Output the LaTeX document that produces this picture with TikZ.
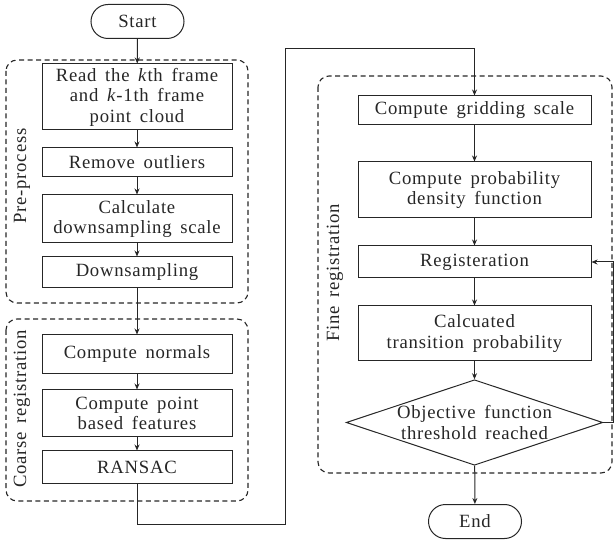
\documentclass[tikz,border=0pt]{standalone}
\usepackage{fontspec}
\setmainfont{Liberation Serif}[LetterSpace=4,WordSpace=1.6]
\usetikzlibrary{arrows.meta,shapes.geometric,shapes.misc}
\definecolor{ink}{HTML}{262626}
\tikzset{
  proc/.style={draw=ink, line width=1pt, rectangle, minimum width=190pt, inner sep=0pt, align=center, text=ink, font=\fontsize{18.7}{20.5}\selectfont},
  rproc/.style={proc, minimum width=233pt},
  term/.style={draw=ink, line width=1pt, rounded rectangle, minimum width=93pt, minimum height=34pt, inner sep=0pt, text=ink, font=\fontsize{18.7}{20.5}\selectfont},
  dec/.style={draw=ink, line width=1pt, diamond, aspect=3, minimum width=243pt, minimum height=81pt, inner sep=0pt, align=center, text=ink, font=\fontsize{18.7}{20.5}\selectfont},
  group/.style={draw=ink, line width=1.1pt, dash pattern=on 5pt off 3.5pt, rounded corners=11pt},
  glabel/.style={rotate=90, text=ink, font=\fontsize{18.7}{20.5}\selectfont},
  flow/.style={draw=ink, line width=1pt, -{Stealth[length=6pt,width=5pt]}},
}
\begin{document}
\begin{tikzpicture}[x=1pt,y=-1pt]
\useasboundingbox (0,0) rectangle (614,540);
% groups
\draw[group] (6,60) rectangle (248,303);
\draw[group] (6,319) rectangle (248,501);
\draw[group] (318,76) rectangle (612,473);
\node[glabel] (lpre) at (22,176) {Pre-process};
\node[glabel] (lcoarse) at (22,409) {Coarse registration};
\node[glabel] (lfine) at (335,273) {Fine registration};
% left column
\node[term] (start) at (137.5,21.5) {Start};
\node[proc, minimum height=66pt] (read) at (137,97) {Read the \textit{k}th frame\\and \textit{k}-1th frame\\point cloud};
\node[proc, minimum height=29pt] (outl) at (137,162.5) {Remove outliers};
\node[proc, minimum height=48pt] (calc) at (137,219) {Calculate\\downsampling scale};
\node[proc, minimum height=31pt] (down) at (137,272.5) {Downsampling};
\node[proc, minimum height=39pt] (norm) at (137,354.5) {Compute normals};
\node[proc, minimum height=47pt] (feat) at (137,413.5) {Compute point\\based features};
\node[proc, minimum height=32pt] (ransac) at (137,467) {RANSAC};
% right column
\node[rproc, minimum height=29pt] (grid) at (474.5,110.5) {Compute gridding scale};
\node[rproc, minimum height=56pt] (pdf) at (474.5,190) {Compute probability\\density function};
\node[rproc, minimum height=32pt] (reg) at (474.5,262) {Registeration};
\node[rproc, minimum height=55pt] (trans) at (474.5,333.5) {Calcuated\\transition probability};
\node[dec] (obj) at (474.5,422.5) {Objective function\\threshold reached};
\node[term] (end) at (475,521.5) {End};
% connectors
\draw[flow] (start) -- (read);
\draw[flow] (read) -- (outl);
\draw[flow] (outl) -- (calc);
\draw[flow] (calc) -- (down);
\draw[flow] (down) -- (norm);
\draw[flow] (norm) -- (feat);
\draw[flow] (feat) -- (ransac);
\draw[flow] (ransac.south) -- ++(0,41) -| (285,49) -| (grid.north);
\draw[flow] (grid) -- (pdf);
\draw[flow] (pdf) -- (reg);
\draw[flow] (reg) -- (trans);
\draw[flow] (trans) -- (obj);
\draw[flow] (obj) -- (end);
\draw[flow] (obj.east) -- ++(10,0) |- (reg.east);
\end{tikzpicture}
\end{document}
